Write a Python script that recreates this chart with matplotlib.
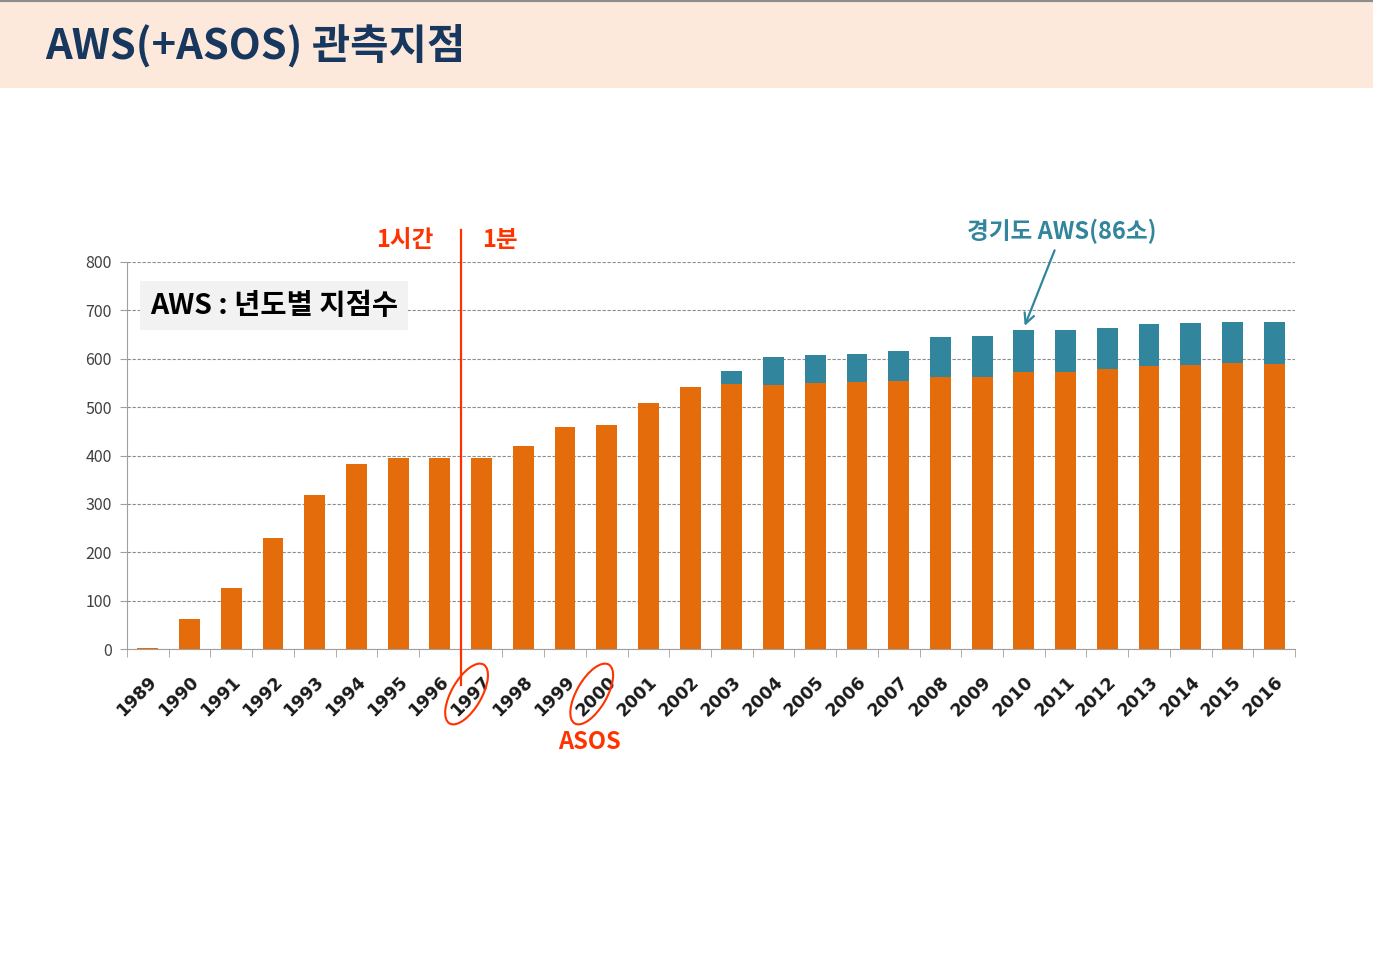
import numpy as np
import matplotlib.pyplot as plt
from matplotlib.patches import Ellipse, Rectangle
from matplotlib.transforms import IdentityTransform

plt.rcParams['font.family'] = ['Noto Sans CJK KR', 'DejaVu Sans']

# Data
years = [str(y) for y in range(1989, 2017)]
aws_total = [3, 63, 126, 230, 318, 382, 394, 394, 394, 419, 459, 463,
             509, 542, 547, 545, 549, 551, 555, 562, 562, 573, 572, 578,
             586, 587, 591, 589]
gyeonggi = [0, 0, 0, 0, 0, 0, 0, 0, 0, 0, 0, 0,
            0, 0, 27, 58, 59, 59, 61, 82, 84, 86, 87, 86,
            85, 86, 86, 86]
yticks = list(range(0, 801, 100))

orange = '#E46C0A'
teal = '#31859C'
red = '#FF3300'
navy = '#17375E'

W, H = 1373, 961
fig = plt.figure(figsize=(W / 100, H / 100), dpi=100)

# header band
fig.patches.append(Rectangle((0, 1 - 88 / H), 1, 88 / H, transform=fig.transFigure,
                             facecolor='#FDE9DB', edgecolor='none', zorder=0))
fig.lines.append(plt.Line2D([0, 1], [1 - 1 / H, 1 - 1 / H], transform=fig.transFigure,
                            color='#8C8C8C', lw=1.5))
fig.text(45 / W, 1 - 46 / H, 'AWS(+ASOS) 관측지점', fontsize=30, fontweight='bold',
         color=navy, va='center', ha='left')

ax = fig.add_axes([127 / W, 1 - 649 / H, (1295 - 127) / W, (649 - 262) / H])
x = np.arange(len(years))
ax.bar(x, aws_total, width=0.5, color=orange, zorder=3)
ax.bar(x, gyeonggi, width=0.5, bottom=aws_total, color=teal, zorder=3)

ax.set_xlim(-0.5, len(years) - 0.5)
ax.set_ylim(0, 800)
ax.set_yticks(yticks)
ax.tick_params(axis='y', labelsize=11.5, labelcolor='#404040', length=5,
               color='#A0A0A0', pad=6)
ax.yaxis.grid(True, linestyle=(0, (3, 1.5)), color='#8C8C8C', lw=0.8, zorder=0)

ax.set_xticks(x)
ax.set_xticklabels(years, rotation=45, ha='right', va='top', rotation_mode='anchor',
                   fontsize=12.5, fontweight='bold', color='#1A1A1A', family='DejaVu Sans')
ax.tick_params(axis='x', length=0, pad=17)
ax.set_xticks(np.arange(-0.5, len(years), 1), minor=True)
ax.tick_params(axis='x', which='minor', length=6, color='#A0A0A0')

for s in ['top', 'right']:
    ax.spines[s].set_visible(False)
for s in ['left', 'bottom']:
    ax.spines[s].set_color('#A0A0A0')

# box label
ax.text(0.05, 710, 'AWS : 년도별 지점수', fontsize=20.5, fontweight='bold', color='black',
        va='center', ha='left', zorder=5,
        bbox=dict(boxstyle='square,pad=0.36', facecolor='#F2F2F2', edgecolor='none'))

# 1시간 / 1분 divider
ax.plot([7.5, 7.5], [866, -74], color=red, lw=1.6, clip_on=False, zorder=6)
ax.text(6.17, 845, '1시간', color=red, fontsize=17, fontweight='bold',
        ha='center', va='center')
ax.text(8.44, 845, '1분', color=red, fontsize=17, fontweight='bold',
        ha='center', va='center')

# Gyeonggi annotation
ax.annotate('경기도 AWS(86소)', xy=(21.02, 668), xytext=(21.92, 864),
            color=teal, fontsize=17, fontweight='bold', ha='center', va='center',
            annotation_clip=False,
            arrowprops=dict(arrowstyle='->', color=teal, lw=1.6,
                            shrinkA=3, shrinkB=0, mutation_scale=18))

# ASOS annotation
ax.text(10.58, -192, 'ASOS', color=red, fontsize=17, fontweight='bold',
        ha='center', va='center')

# ellipses around 1997 and 2000 labels
for idx in [8, 11]:
    px, py = ax.transData.transform((idx, 0))
    e = Ellipse((px - 15, py - 45), 68, 30, angle=60, transform=IdentityTransform(),
                fill=False, edgecolor=red, lw=1.5, clip_on=False)
    fig.patches.append(e)

fig.savefig('out.png', dpi=100)
